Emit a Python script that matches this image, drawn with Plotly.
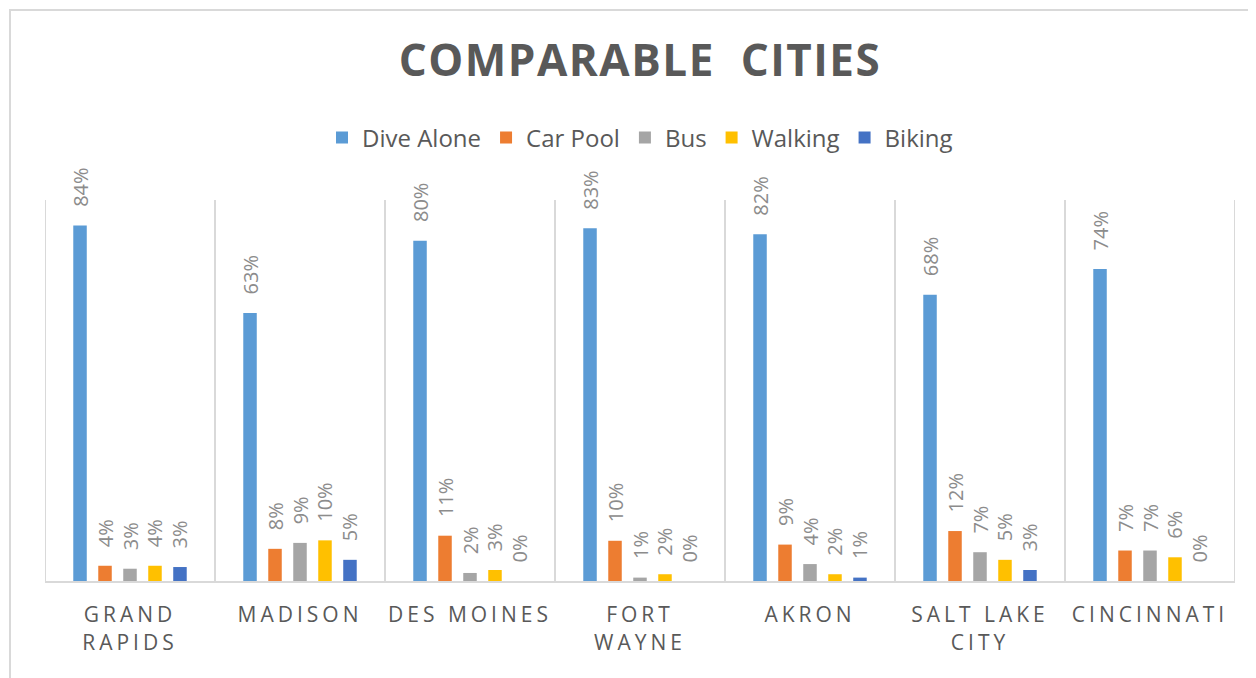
import plotly.graph_objects as go

cities = ["GRAND<br>RAPIDS", "MADISON", "DES MOINES", "FORT<br>WAYNE", "AKRON", "SALT LAKE<br>CITY", "CINCINNATI"]
series_names = ["Dive Alone", "Car Pool", "Bus", "Walking", "Biking"]
dive_alone = [84.0, 63.3, 80.4, 83.3, 81.9, 67.6, 73.7]
car_pool = [3.6, 7.6, 10.7, 9.5, 8.6, 11.8, 7.2]
bus = [2.9, 9.0, 1.9, 0.8, 4.0, 6.8, 7.2]
walking = [3.6, 9.6, 2.6, 1.6, 1.6, 5.0, 5.6]
biking = [3.3, 5.0, 0.0, 0.0, 0.8, 2.6, 0.0]
colors = ["#5B9BD5", "#ED7D31", "#A5A5A5", "#FFC000", "#4472C4"]

LS = "letter-spacing:4px"
tick_text = ["<br>".join(f'<span style="{LS}">{part}</span>' for part in c.split("<br>")) for c in cities]

fig = go.Figure()
for name, vals, col in zip(series_names, [dive_alone, car_pool, bus, walking, biking], colors):
    fig.add_trace(go.Bar(
        x=list(range(len(cities))), y=vals, name=name, marker_color=col,
        marker_line_width=0,
        texttemplate="\u00a0\u00a0\u00a0%{y:.0f}%", textposition="outside",
        textangle=-90, constraintext="none", cliponaxis=False,
        textfont=dict(family="Open Sans", size=20, color="#8c8c8c"),
    ))

shapes = []
for i in range(len(cities) + 1):
    shapes.append(dict(type="line", xref="x", yref="paper", x0=i - 0.5, x1=i - 0.5,
                       y0=0, y1=1, line=dict(color="#d9d9d9", width=2), layer="below"))
shapes.append(dict(type="rect", xref="paper", yref="paper", x0=-0.0294, x1=1.06, y0=-0.4, y1=1.499,
                   line=dict(color="#d9d9d9", width=2), layer="below"))

fig.update_layout(
    width=1256, height=678,
    margin=dict(l=37, r=29, t=192, b=105, autoexpand=False),
    paper_bgcolor="white", plot_bgcolor="white",
    barmode="group", bargap=0.265, bargroupgap=0.46,
    title=dict(text='<span style="letter-spacing:1.5px">COMPARABLE  CITIES</span>',
               x=0.5, xref="paper", xanchor="center", y=0.922, yanchor="middle",
               font=dict(family="Open Sans", size=44, color="#595959", weight="bold")),
    legend=dict(orientation="h", x=0.5, xanchor="center", y=1.163, yanchor="middle",
                font=dict(family="Open Sans", size=24, color="#595959"),
                itemwidth=30, traceorder="normal"),
    showlegend=True,
    shapes=shapes,
    xaxis=dict(tickmode="array", tickvals=list(range(len(cities))), ticktext=tick_text,
               range=[-0.5, len(cities) - 0.5], showgrid=False, zeroline=False,
               showline=True, linecolor="#d9d9d9", linewidth=2, ticks="",
               tickangle=0, automargin=False,
               tickfont=dict(family="Open Sans", size=21, color="#595959"),
               ticklabelstandoff=14),
    yaxis=dict(range=[0, 90], visible=False, showgrid=False, automargin=False),
)

fig.write_html("out.html")
